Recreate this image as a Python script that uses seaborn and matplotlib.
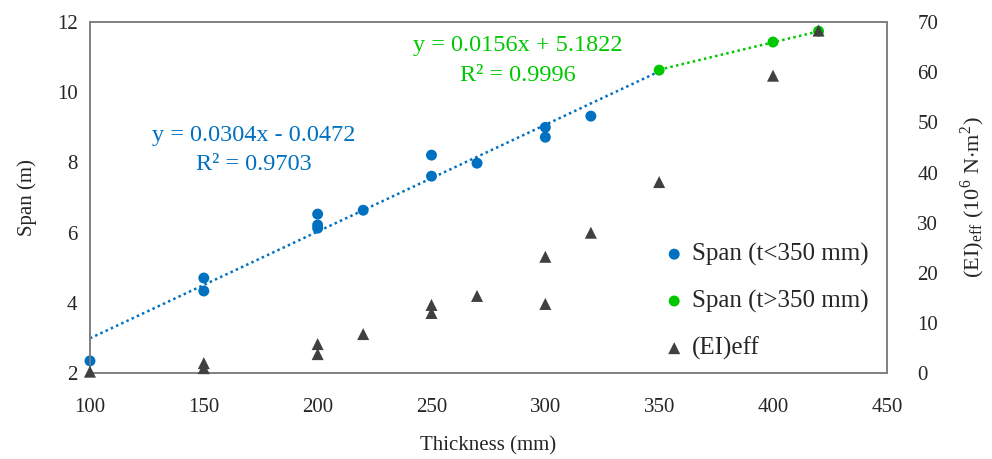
import numpy as np
import pandas as pd
import matplotlib
matplotlib.use("Agg")
import matplotlib.pyplot as plt
import seaborn as sns

# Span for thinner slabs (t < 350 mm)
thick_small = [100, 150, 150, 200, 200, 200, 220, 250, 250, 270, 300, 300, 320]
span_small = [2.35, 4.71, 4.34, 6.53, 6.22, 6.13, 6.64, 8.21, 7.61, 7.98, 9.0, 8.72, 9.32]

# Span for thicker slabs (t > 350 mm)
thick_large = [350, 400, 420]
span_large = [10.63, 11.43, 11.74]

# Effective bending stiffness (10^6 N.m^2)
thick_ei = [100, 150, 150, 200, 200, 220, 250, 250, 270, 300, 300, 320, 350, 400, 420]
ei_eff = [0.3, 2.0, 1.0, 5.8, 3.8, 7.8, 13.6, 12.0, 15.4, 23.2, 13.8, 28.0, 38.1, 59.3, 68.3]

# Trend lines (slope, intercept) as given on the chart
fit_small = [0.0304, -0.0472]
fit_large = [0.0156, 5.1822]
fit_small_range = [100, 350]
fit_large_range = [350, 420]

blue = "#0070C0"
green = "#00C800"
dark = "#404040"

sns.set_style("white")
plt.rcParams["font.family"] = ["Liberation Serif", "DejaVu Serif"]
plt.rcParams["mathtext.fontset"] = "stix"

fig, ax = plt.subplots(figsize=(9.92, 4.59), dpi=100)
ax2 = ax.twinx()

df_small = pd.DataFrame({"Thickness": thick_small, "Span": span_small})
df_large = pd.DataFrame({"Thickness": thick_large, "Span": span_large})
df_ei = pd.DataFrame({"Thickness": thick_ei, "EI": ei_eff})

# trend lines first so markers sit on top
xs = np.array(fit_small_range)
ax.plot(xs, np.polyval(fit_small, xs), color=blue, ls=(0, (1, 1.3)), lw=1.8)
xl = np.array(fit_large_range)
ax.plot(xl, np.polyval(fit_large, xl), color=green, ls=(0, (1, 1.3)), lw=1.8)

sns.scatterplot(data=df_small, x="Thickness", y="Span", ax=ax, color=blue,
                s=62, edgecolor="none", label="Span (t<350 mm)", zorder=3, clip_on=False)
sns.scatterplot(data=df_large, x="Thickness", y="Span", ax=ax, color=green,
                s=62, edgecolor="none", label="Span (t>350 mm)", zorder=3, clip_on=False)
sns.scatterplot(data=df_ei, x="Thickness", y="EI", ax=ax2, color=dark,
                marker="^", s=75, edgecolor="none", label="(EI)eff", zorder=3, clip_on=False)

ax.set_xlim(100, 450)
ax.set_ylim(2, 12)
ax2.set_ylim(0, 70)
ax.set_xticks(range(100, 451, 50))
ax.set_yticks(range(2, 13, 2))
ax2.set_yticks(range(0, 71, 10))

ax.set_xlabel("Thickness (mm)", fontsize=15, labelpad=14)
ax.set_ylabel("Span (m)", fontsize=15, labelpad=14)
ax2.set_ylabel(r"(EI)$_{\mathregular{eff}}$ (10$^{\mathregular{6}}$ N$\cdot$m$^{\mathregular{2}}$)",
               fontsize=16, labelpad=15)

ax.tick_params(axis="x", length=0, labelsize=15, pad=18)
ax.tick_params(axis="y", length=0, labelsize=15, pad=9)
ax2.tick_params(axis="y", length=0, labelsize=15, pad=22)
for a in (ax, ax2):
    for sp in a.spines.values():
        sp.set_color("#808080")
        sp.set_linewidth(1.2)

# equations
ax.text(172, 8.78, "y = 0.0304x - 0.0472", color=blue, fontsize=17.5, ha="center", va="center")
ax.text(172, 7.93, "R² = 0.9703", color=blue, fontsize=17.5, ha="center", va="center")
ax.text(288, 11.34, "y = 0.0156x + 5.1822", color=green, fontsize=17.5, ha="center", va="center")
ax.text(288, 10.49, "R² = 0.9996", color=green, fontsize=17.5, ha="center", va="center")

# merge the legends of both axes
ax2.get_legend().remove()
h1, l1 = ax.get_legend_handles_labels()
h2, l2 = ax2.get_legend_handles_labels()
ax.legend(h1 + h2, l1 + l2, loc="lower right", bbox_to_anchor=(1.005, -0.027),
          frameon=False, fontsize=18, handlelength=0.8, handletextpad=0.3,
          labelspacing=0.95, markerscale=1.0)

plt.subplots_adjust(left=0.0907, right=0.894, top=0.952, bottom=0.187)
fig.savefig("out.png", dpi=100)
